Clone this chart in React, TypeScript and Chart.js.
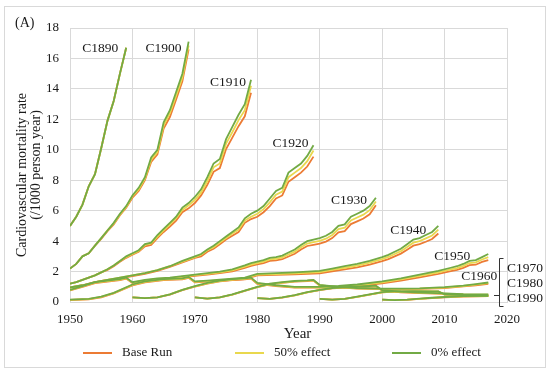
import React, { useEffect, useRef } from "react";
import { Chart, registerables } from "chart.js";

Chart.register(...registerables);

// ---------- tick labels ----------
const xTickValues = [1950, 1960, 1970, 1980, 1990, 2000, 2010, 2020];
const yTickValues = [0, 2, 4, 6, 8, 10, 12, 14, 16, 18];

// ---------- series names ----------
const seriesNames = ["Base Run", "50% effect", "0% effect"];
const cohortNames = ["C1890", "C1900", "C1910", "C1920", "C1930", "C1940", "C1950", "C1960", "C1970", "C1980", "C1990"];

// ---------- data (per cohort) ----------
const C1890_years = [1950, 1951, 1952, 1953, 1954, 1955, 1956, 1957, 1958, 1959];
const C1890_zero = [5.0, 5.6, 6.4, 7.6, 8.4, 10.1, 11.9, 13.2, 15.0, 16.7];
const C1890_half = [5.0, 5.6, 6.4, 7.6, 8.4, 10.1, 11.9, 13.2, 15.0, 16.7];
const C1890_base = [5.0, 5.6, 6.4, 7.6, 8.4, 10.1, 11.9, 13.2, 15.0, 16.7];

const C1900_years = [1950, 1951, 1952, 1953, 1954, 1955, 1956, 1957, 1958, 1959, 1960, 1961, 1962, 1963, 1964, 1965, 1966, 1967, 1968, 1969];
const C1900_zero = [2.2, 2.5, 3.0, 3.2, 3.7, 4.2, 4.7, 5.2, 5.8, 6.3, 7.0, 7.5, 8.2, 9.5, 10.0, 11.8, 12.6, 13.8, 15.0, 17.1];
const C1900_half = [2.2, 2.5, 3.0, 3.2, 3.7, 4.2, 4.7, 5.15, 5.75, 6.25, 6.95, 7.4, 8.1, 9.35, 9.85, 11.6, 12.4, 13.55, 14.75, 16.85];
const C1900_base = [2.2, 2.5, 3.0, 3.2, 3.7, 4.15, 4.65, 5.1, 5.7, 6.2, 6.85, 7.3, 8.0, 9.2, 9.7, 11.4, 12.15, 13.3, 14.5, 16.6];

const C1910_years = [1950, 1951, 1952, 1953, 1954, 1955, 1956, 1957, 1958, 1959, 1960, 1961, 1962, 1963, 1964, 1965, 1966, 1967, 1968, 1969, 1970, 1971, 1972, 1973, 1974, 1975, 1976, 1977, 1978, 1979];
const C1910_zero = [1.2, 1.3, 1.45, 1.6, 1.75, 1.95, 2.15, 2.4, 2.7, 3.0, 3.2, 3.4, 3.8, 3.9, 4.4, 4.8, 5.2, 5.6, 6.2, 6.5, 6.9, 7.4, 8.2, 9.1, 9.4, 10.7, 11.5, 12.3, 13.0, 14.6];
const C1910_half = [1.2, 1.3, 1.45, 1.6, 1.75, 1.95, 2.15, 2.4, 2.7, 2.95, 3.15, 3.35, 3.75, 3.85, 4.3, 4.7, 5.1, 5.5, 6.05, 6.35, 6.7, 7.2, 7.95, 8.85, 9.1, 10.4, 11.15, 11.95, 12.6, 14.2];
const C1910_base = [1.2, 1.3, 1.45, 1.6, 1.75, 1.95, 2.1, 2.35, 2.65, 2.9, 3.1, 3.3, 3.65, 3.75, 4.2, 4.6, 4.95, 5.35, 5.9, 6.15, 6.5, 7.0, 7.7, 8.55, 8.8, 10.05, 10.8, 11.55, 12.2, 13.75];

const C1920_years = [1950, 1952, 1954, 1956, 1958, 1960, 1962, 1964, 1966, 1968, 1970, 1971, 1972, 1973, 1974, 1975, 1976, 1977, 1978, 1979, 1980, 1981, 1982, 1983, 1984, 1985, 1986, 1987, 1988, 1989];
const C1920_zero = [0.95, 1.1, 1.3, 1.45, 1.6, 1.75, 1.9, 2.1, 2.35, 2.7, 3.0, 3.15, 3.45, 3.7, 4.0, 4.3, 4.6, 4.9, 5.5, 5.8, 6.0, 6.3, 6.8, 7.3, 7.5, 8.5, 8.8, 9.1, 9.6, 10.3];
const C1920_half = [0.95, 1.1, 1.3, 1.45, 1.6, 1.75, 1.9, 2.1, 2.35, 2.65, 2.95, 3.1, 3.4, 3.6, 3.9, 4.2, 4.5, 4.75, 5.35, 5.6, 5.8, 6.1, 6.55, 7.05, 7.25, 8.2, 8.5, 8.8, 9.25, 9.95];
const C1920_base = [0.95, 1.1, 1.3, 1.45, 1.55, 1.7, 1.85, 2.05, 2.3, 2.6, 2.9, 3.0, 3.3, 3.5, 3.8, 4.1, 4.35, 4.6, 5.2, 5.45, 5.6, 5.9, 6.3, 6.8, 7.0, 7.9, 8.2, 8.5, 8.9, 9.55];

const C1930_years = [1950, 1952, 1954, 1956, 1958, 1959, 1960, 1962, 1964, 1966, 1968, 1970, 1972, 1974, 1976, 1978, 1979, 1980, 1981, 1982, 1983, 1984, 1985, 1986, 1987, 1988, 1989, 1990, 1991, 1992, 1993, 1994, 1995, 1996, 1997, 1998, 1999];
const C1930_zero = [0.8, 1.05, 1.3, 1.4, 1.5, 1.6, 1.3, 1.45, 1.55, 1.6, 1.7, 1.8, 1.9, 2.0, 2.15, 2.4, 2.55, 2.65, 2.75, 2.9, 2.95, 3.05, 3.25, 3.45, 3.75, 4.0, 4.1, 4.2, 4.35, 4.6, 5.0, 5.1, 5.6, 5.8, 6.0, 6.3, 6.85];
const C1930_half = [0.78, 1.02, 1.27, 1.37, 1.47, 1.57, 1.27, 1.42, 1.52, 1.57, 1.66, 1.76, 1.85, 1.95, 2.08, 2.32, 2.46, 2.56, 2.65, 2.8, 2.84, 2.93, 3.12, 3.31, 3.6, 3.84, 3.93, 4.02, 4.16, 4.4, 4.79, 4.88, 5.36, 5.55, 5.74, 6.03, 6.6];
const C1930_base = [0.76, 0.99, 1.24, 1.34, 1.44, 1.54, 1.24, 1.39, 1.49, 1.54, 1.62, 1.72, 1.8, 1.9, 2.01, 2.24, 2.37, 2.47, 2.55, 2.7, 2.73, 2.81, 2.99, 3.17, 3.45, 3.68, 3.76, 3.84, 3.97, 4.2, 4.58, 4.66, 5.12, 5.3, 5.48, 5.76, 6.35];

const C1940_years = [1950, 1953, 1955, 1957, 1960, 1962, 1965, 1968, 1969, 1970, 1972, 1975, 1978, 1980, 1983, 1986, 1990, 1992, 1994, 1996, 1998, 2000, 2001, 2002, 2003, 2004, 2005, 2006, 2007, 2008, 2009];
const C1940_zero = [0.15, 0.2, 0.35, 0.6, 1.15, 1.35, 1.5, 1.55, 1.65, 1.35, 1.4, 1.5, 1.6, 1.85, 1.9, 1.95, 2.05, 2.2, 2.35, 2.5, 2.7, 2.95, 3.1, 3.3, 3.5, 3.8, 4.1, 4.2, 4.4, 4.6, 5.0];
const C1940_half = [0.14, 0.19, 0.33, 0.58, 1.12, 1.32, 1.47, 1.52, 1.62, 1.32, 1.37, 1.46, 1.55, 1.8, 1.84, 1.88, 1.97, 2.11, 2.25, 2.39, 2.58, 2.82, 2.96, 3.15, 3.34, 3.62, 3.9, 4.0, 4.18, 4.37, 4.75];
const C1940_base = [0.13, 0.18, 0.31, 0.56, 1.09, 1.29, 1.44, 1.49, 1.59, 1.29, 1.34, 1.42, 1.5, 1.75, 1.78, 1.81, 1.89, 2.02, 2.15, 2.28, 2.46, 2.69, 2.82, 3.0, 3.18, 3.44, 3.7, 3.8, 3.96, 4.14, 4.5];

const C1950_years = [1960, 1962, 1964, 1966, 1968, 1970, 1972, 1974, 1976, 1978, 1979, 1980, 1983, 1986, 1990, 1993, 1996, 2000, 2003, 2006, 2009, 2011, 2012, 2013, 2014, 2015, 2016, 2017];
const C1950_zero = [0.3, 0.25, 0.3, 0.5, 0.8, 1.05, 1.25, 1.4, 1.5, 1.55, 1.6, 1.25, 1.1, 1.0, 1.0, 1.05, 1.15, 1.35, 1.55, 1.8, 2.05, 2.25, 2.35, 2.5, 2.7, 2.75, 2.95, 3.15];
const C1950_half = [0.3, 0.25, 0.3, 0.5, 0.79, 1.03, 1.23, 1.37, 1.47, 1.52, 1.57, 1.22, 1.07, 0.97, 0.97, 1.01, 1.1, 1.29, 1.48, 1.71, 1.95, 2.14, 2.23, 2.37, 2.56, 2.6, 2.79, 2.95];
const C1950_base = [0.3, 0.25, 0.3, 0.49, 0.78, 1.01, 1.21, 1.35, 1.44, 1.49, 1.54, 1.19, 1.04, 0.94, 0.94, 0.97, 1.05, 1.23, 1.41, 1.62, 1.85, 2.03, 2.11, 2.24, 2.42, 2.45, 2.63, 2.75];

const C1960_years = [1970, 1972, 1974, 1976, 1978, 1980, 1982, 1984, 1986, 1988, 1989, 1990, 1993, 1996, 2000, 2003, 2006, 2010, 2013, 2015, 2017];
const C1960_zero = [0.3, 0.22, 0.3, 0.5, 0.75, 1.0, 1.2, 1.3, 1.38, 1.42, 1.45, 1.12, 1.0, 0.92, 0.88, 0.88, 0.9, 0.98, 1.08, 1.18, 1.28];
const C1960_half = [0.3, 0.22, 0.3, 0.49, 0.74, 0.98, 1.18, 1.28, 1.36, 1.4, 1.43, 1.1, 0.98, 0.9, 0.86, 0.86, 0.88, 0.95, 1.05, 1.14, 1.24];
const C1960_base = [0.3, 0.22, 0.3, 0.48, 0.73, 0.97, 1.16, 1.26, 1.34, 1.38, 1.41, 1.08, 0.96, 0.88, 0.84, 0.84, 0.86, 0.92, 1.02, 1.1, 1.2];

const C1970_years = [1980, 1982, 1984, 1986, 1988, 1990, 1992, 1995, 1998, 1999, 2000, 2003, 2006, 2010, 2013, 2017];
const C1970_zero = [0.25, 0.2, 0.3, 0.45, 0.65, 0.8, 0.92, 1.0, 1.05, 1.07, 0.78, 0.68, 0.62, 0.57, 0.52, 0.5];
const C1970_half = [0.25, 0.2, 0.3, 0.44, 0.64, 0.79, 0.91, 0.98, 1.03, 1.05, 0.76, 0.66, 0.6, 0.55, 0.5, 0.48];
const C1970_base = [0.25, 0.2, 0.29, 0.43, 0.63, 0.78, 0.89, 0.96, 1.01, 1.03, 0.74, 0.64, 0.58, 0.53, 0.48, 0.46];

const C1980_years = [1990, 1992, 1994, 1996, 1998, 2000, 2002, 2005, 2008, 2009, 2010, 2013, 2017];
const C1980_zero = [0.2, 0.15, 0.2, 0.35, 0.5, 0.65, 0.7, 0.72, 0.7, 0.7, 0.5, 0.45, 0.42];
const C1980_half = [0.2, 0.15, 0.2, 0.34, 0.49, 0.64, 0.69, 0.71, 0.69, 0.69, 0.49, 0.44, 0.41];
const C1980_base = [0.2, 0.15, 0.2, 0.33, 0.48, 0.63, 0.68, 0.7, 0.68, 0.68, 0.48, 0.43, 0.4];

const C1990_years = [2000, 2002, 2004, 2006, 2008, 2010, 2013, 2017];
const C1990_zero = [0.15, 0.12, 0.15, 0.22, 0.28, 0.33, 0.38, 0.4];
const C1990_half = [0.15, 0.12, 0.15, 0.21, 0.27, 0.32, 0.37, 0.39];
const C1990_base = [0.15, 0.12, 0.14, 0.2, 0.26, 0.31, 0.36, 0.38];

// ---------- table built from the arrays ----------
const cohorts = [
  { name: "C1890", years: C1890_years, base: C1890_base, half: C1890_half, zero: C1890_zero },
  { name: "C1900", years: C1900_years, base: C1900_base, half: C1900_half, zero: C1900_zero },
  { name: "C1910", years: C1910_years, base: C1910_base, half: C1910_half, zero: C1910_zero },
  { name: "C1920", years: C1920_years, base: C1920_base, half: C1920_half, zero: C1920_zero },
  { name: "C1930", years: C1930_years, base: C1930_base, half: C1930_half, zero: C1930_zero },
  { name: "C1940", years: C1940_years, base: C1940_base, half: C1940_half, zero: C1940_zero },
  { name: "C1950", years: C1950_years, base: C1950_base, half: C1950_half, zero: C1950_zero },
  { name: "C1960", years: C1960_years, base: C1960_base, half: C1960_half, zero: C1960_zero },
  { name: "C1970", years: C1970_years, base: C1970_base, half: C1970_half, zero: C1970_zero },
  { name: "C1980", years: C1980_years, base: C1980_base, half: C1980_half, zero: C1980_zero },
  { name: "C1990", years: C1990_years, base: C1990_base, half: C1990_half, zero: C1990_zero },
];

const COLORS = { base: "#EC7B34", half: "#E9D84E", zero: "#72AA45" };
const FONT = '"Liberation Serif", "Times New Roman", Times, serif';
const TEXT = "#1a1a1a";
const GRID = "#d9d9d9";

// label offsets (px) relative to the last point of the 0% effect line: [dx of right edge, dy]
const labelOffsets: Record<string, [number, number, string]> = {
  C1890: [-8, 1, "right"],
  C1900: [-7, 7, "right"],
  C1910: [-5, 3, "right"],
  C1920: [-5, -2, "right"],
  C1930: [-9, 3, "right"],
  C1940: [-12, 5, "right"],
  C1950: [-18, 2, "right"],
  C1960: [9, -6, "right"],
};

const decorPlugin = {
  id: "decor",
  beforeDraw(chart: any) {
    const ctx = chart.ctx;
    ctx.save();
    ctx.fillStyle = "#ffffff";
    ctx.fillRect(0, 0, chart.width, chart.height);
    ctx.strokeStyle = GRID;
    ctx.lineWidth = 1;
    ctx.strokeRect(4.5, 6.5, 541, 361);
    ctx.restore();
  },
  afterDraw(chart: any) {
    const ctx = chart.ctx;
    const xs = chart.scales.x;
    const ys = chart.scales.y;
    const area = chart.chartArea;
    ctx.save();
    ctx.fillStyle = TEXT;
    ctx.textBaseline = "middle";

    // panel label
    ctx.font = `14px ${FONT}`;
    ctx.textAlign = "left";
    ctx.fillText("(A)", 15, 23);

    // y title (two rotated lines)
    ctx.save();
    ctx.font = `14px ${FONT}`;
    ctx.textAlign = "center";
    ctx.translate(22, 175);
    ctx.rotate(-Math.PI / 2);
    ctx.fillText("Cardiovascular mortality rate", 0, 0);
    ctx.restore();
    ctx.save();
    ctx.font = `14px ${FONT}`;
    ctx.textAlign = "center";
    ctx.translate(36, 165);
    ctx.rotate(-Math.PI / 2);
    ctx.fillText("(/1000 person year)", 0, 0);
    ctx.restore();

    // x title
    ctx.font = `15px ${FONT}`;
    ctx.textAlign = "center";
    ctx.fillText("Year", (area.left + area.right) / 2 + 9, 334);

    // cohort labels
    ctx.font = `13.5px ${FONT}`;
    cohorts.forEach((c) => {
      const off = labelOffsets[c.name];
      if (!off) return;
      const i = c.years.length - 1;
      const px = xs.getPixelForValue(c.years[i]);
      const py = ys.getPixelForValue(c.zero[i]);
      ctx.textAlign = off[2];
      ctx.fillText(c.name, px + off[0], py + off[1]);
    });

    // grouped labels on the right
    ctx.textAlign = "left";
    const grouped = ["C1970", "C1980", "C1990"];
    grouped.forEach((n, k) => {
      ctx.fillText(n, area.right, 268 + k * 15);
    });
    // bracket
    ctx.strokeStyle = "#333";
    ctx.lineWidth = 1;
    ctx.beginPath();
    ctx.moveTo(503.5, 258.5);
    ctx.lineTo(499.5, 258.5);
    ctx.lineTo(499.5, 306.5);
    ctx.lineTo(503.5, 306.5);
    ctx.moveTo(499.5, 295.5);
    ctx.lineTo(494, 295.5);
    ctx.stroke();

    // legend
    const legendX = [83, 235, 392];
    const cols = [COLORS.base, COLORS.half, COLORS.zero];
    ctx.font = `13px ${FONT}`;
    ctx.textAlign = "left";
    seriesNames.forEach((s, k) => {
      ctx.strokeStyle = cols[k];
      ctx.lineWidth = 2;
      ctx.beginPath();
      ctx.moveTo(legendX[k], 353);
      ctx.lineTo(legendX[k] + 29, 353);
      ctx.stroke();
      ctx.fillStyle = TEXT;
      ctx.fillText(s, legendX[k] + 39, 353);
    });
    ctx.restore();
  },
};

export default function App() {
  const ref = useRef<HTMLCanvasElement | null>(null);
  useEffect(() => {
    document.body.style.margin = "0";
    const canvas = ref.current;
    if (!canvas) return;
    const datasets: any[] = [];
    const kinds: [keyof typeof COLORS, number][] = [["base", 2], ["half", 1], ["zero", 0]];
    cohorts.forEach((c) => {
      kinds.forEach(([k, order]) => {
        const vals = (c as any)[k] as number[];
        datasets.push({
          label: `${c.name} ${k}`,
          data: c.years.map((yr, i) => ({ x: yr, y: vals[i] })),
          borderColor: COLORS[k],
          backgroundColor: COLORS[k],
          borderWidth: 1.8,
          pointRadius: 0,
          tension: 0,
          fill: false,
          order,
        });
      });
    });
    const chart = new Chart(canvas, {
      type: "line",
      data: { datasets },
      options: {
        animation: false,
        responsive: false,
        devicePixelRatio: 1,
        layout: { padding: { left: 0, right: 43, top: 28, bottom: 0 } },
        plugins: { legend: { display: false }, tooltip: { enabled: false }, title: { display: false } },
        scales: {
          x: {
            type: "linear",
            min: xTickValues[0],
            max: xTickValues[xTickValues.length - 1],
            afterBuildTicks: (s: any) => { s.ticks = xTickValues.map((v) => ({ value: v })); },
            ticks: { color: TEXT, font: { family: FONT, size: 13 }, padding: 10, callback: (v: any) => String(v) },
            grid: { color: GRID, drawTicks: false, lineWidth: 1 },
            border: { color: GRID },
            afterFit: (s: any) => { s.height = 71; },
          },
          y: {
            type: "linear",
            min: yTickValues[0],
            max: yTickValues[yTickValues.length - 1],
            afterBuildTicks: (s: any) => { s.ticks = yTickValues.map((v) => ({ value: v })); },
            ticks: { color: TEXT, font: { family: FONT, size: 13 }, padding: 11, callback: (v: any) => String(v) },
            grid: { color: GRID, drawTicks: false, lineWidth: 1 },
            border: { color: GRID },
            afterFit: (s: any) => { s.width = 70; },
          },
        },
      } as any,
      plugins: [decorPlugin as any],
    });
    return () => chart.destroy();
  }, []);
  return (
    <div style={{ width: 550, height: 373, position: "relative" }}>
      <canvas ref={ref} width={550} height={373} style={{ display: "block" }} />
    </div>
  );
}
